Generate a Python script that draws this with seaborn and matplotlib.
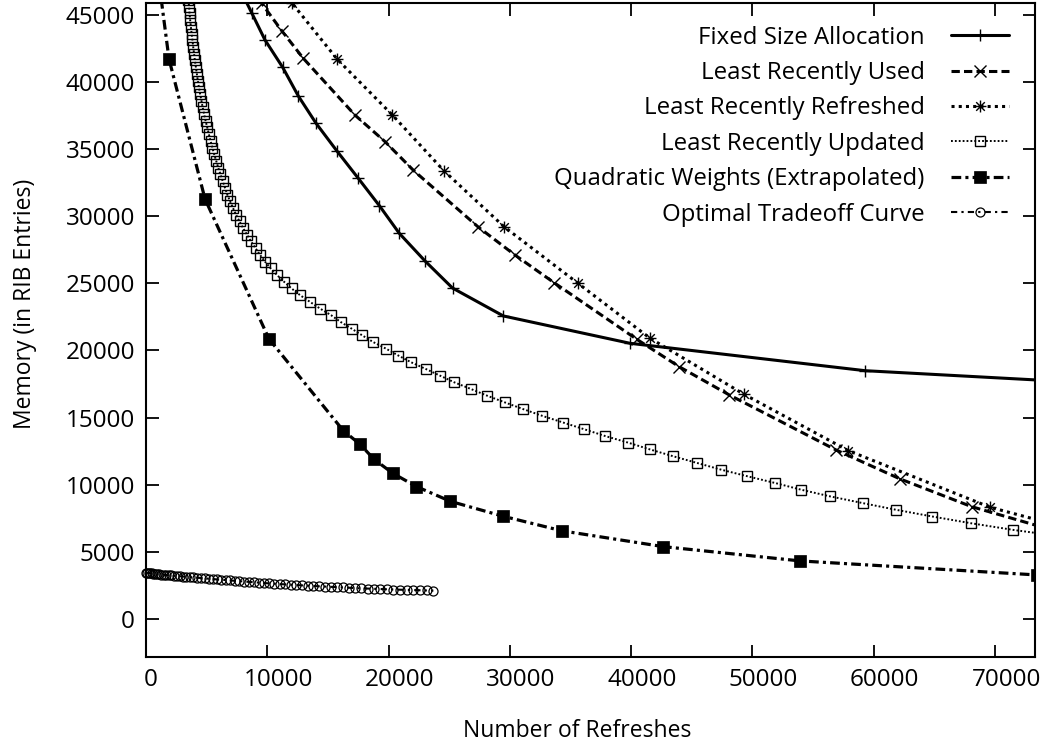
import matplotlib
matplotlib.use("Agg")
import matplotlib.pyplot as plt
import seaborn as sns
from matplotlib.path import Path
from matplotlib import transforms

# ---- data -------------------------------------------------------------
xticks = [0, 10000, 20000, 30000, 40000, 50000, 60000, 70000]
yticks = [0, 5000, 10000, 15000, 20000, 25000, 30000, 35000, 40000, 45000]

fixed_x = [7610, 8710, 9810, 11270, 12560, 14020, 15720, 17500, 19240, 20880,
           23000, 25270, 29460, 39910, 59280, 75000]
fixed_y = [47200, 45170, 43140, 41100, 38960, 36930, 34890, 32830, 30790, 28730,
           26670, 24650, 22570, 20530, 18490, 17720]

lru_x = [8400, 9540, 11190, 12970, 17230, 19710, 22040, 27400, 30420, 33640,
         40460, 43950, 48090, 56890, 62170, 68080, 75000]
lru_y = [47500, 45870, 43830, 41770, 37540, 35560, 33430, 29190, 27110, 25050,
         20830, 18790, 16680, 12580, 10420, 8350, 6540]

lrr_x = [10900, 12010, 15770, 20310, 24550, 29520, 35620, 41550, 49300, 57900,
         69590, 75000]
lrr_y = [47200, 45920, 41700, 37550, 33400, 29220, 25000, 20910, 16730, 12530,
         8310, 7000]

lrup_x = [3500, 3550, 3590, 3640, 3700, 3760, 3830, 3890, 3960, 4030,
          4110, 4190, 4270, 4360, 4460, 4570, 4670, 4790, 4910, 5050,
          5180, 5320, 5470, 5620, 5790, 5960, 6140, 6320, 6510, 6700,
          6930, 7170, 7420, 7710, 8000, 8330, 8660, 9030, 9400, 9810,
          10270, 10800, 11380, 12000, 12700, 13520, 14350, 15270, 16050, 16960,
          17830, 18740, 19810, 20800, 21850, 23060, 24240, 25420, 26800, 28140,
          29600, 31110, 32680, 34410, 36140, 37850, 39770, 41550, 43430, 45400,
          47380, 49580, 51860, 54000, 56400, 59090, 61840, 64830, 68000, 71510,
          75600]
lrup_y = [46120, 45620, 45120, 44620, 44120, 43620, 43120, 42620, 42120, 41620,
          41120, 40620, 40120, 39620, 39120, 38620, 38120, 37620, 37120, 36620,
          36120, 35620, 35120, 34620, 34120, 33620, 33120, 32620, 32120, 31620,
          31120, 30620, 30120, 29620, 29120, 28620, 28120, 27620, 27120, 26620,
          26120, 25620, 25120, 24620, 24120, 23620, 23120, 22620, 22120, 21620,
          21120, 20620, 20120, 19620, 19120, 18620, 18120, 17620, 17120, 16620,
          16120, 15620, 15120, 14620, 14120, 13620, 13120, 12620, 12120, 11620,
          11120, 10620, 10120, 9620, 9120, 8620, 8120, 7620, 7120, 6620,
          6120]

quad_x = [1150, 1896, 4865, 10141, 16267, 17644, 18799, 20341, 22300, 25100,
          29400, 34300, 42652, 53947, 73438]
quad_y = [46900, 41720, 31288, 20852, 14019, 13005, 11887, 10844, 9850, 8750,
          7650, 6550, 5374, 4308, 3264]

opt_x = [0, 100, 210, 330, 460, 600, 750, 910, 1080, 1260,
         1450, 1650, 1860, 2080, 2310, 2550, 2800, 3060, 3330, 3610,
         3900, 4200, 4510, 4830, 5160, 5500, 5850, 6200, 6560, 6930,
         7310, 7700, 8090, 8490, 8900, 9310, 9730, 10160, 10590, 11030,
         11480, 11930, 12390, 12850, 13320, 13790, 14270, 14750, 15240, 15730,
         16230, 16730, 17240, 17750, 18270, 18790, 19320, 19850, 20390, 20930,
         21480, 22030, 22580, 23140, 23690]
opt_y = [3436, 3424, 3411, 3397, 3382, 3366, 3349, 3331, 3312, 3294,
         3276, 3258, 3240, 3223, 3205, 3186, 3166, 3145, 3124, 3102,
         3080, 3061, 3036, 3011, 2985, 2959, 2932, 2906, 2881, 2855,
         2828, 2801, 2774, 2747, 2719, 2691, 2661, 2635, 2610, 2585,
         2559, 2534, 2511, 2488, 2465, 2441, 2418, 2398, 2376, 2355,
         2333, 2311, 2284, 2264, 2249, 2230, 2213, 2196, 2178, 2163,
         2150, 2137, 2123, 2108, 2094]

labels = ["Fixed Size Allocation", "Least Recently Used", "Least Recently Refreshed",
          "Least Recently Updated", "Quadratic Weights (Extrapolated)",
          "Optimal Tradeoff Curve"]

# ---- style ------------------------------------------------------------
sns.set_theme(style="ticks")
plt.rcParams["font.family"] = ["Open Sans", "DejaVu Sans"]
plt.rcParams["lines.scale_dashes"] = False
plt.rcParams["lines.dash_capstyle"] = "butt"

fig = plt.figure(figsize=(10.44, 7.42), dpi=100)
ax = fig.add_axes([146 / 1044, 1 - 656.7 / 742, (1035 - 146) / 1044, (656.7 - 2.7) / 742])

# gnuplot-like star: a "+" overlaid with an "x"
star = Path([(-1, 0), (1, 0), (0, -1), (0, 1),
             (-0.72, -0.72), (0.72, 0.72), (-0.72, 0.72), (0.72, -0.72)],
            [Path.MOVETO, Path.LINETO] * 4)


def draw(x, y, label, ls, lw, marker, ms, mew, mfc, clip=True, z=2):
    sns.lineplot(x=x, y=y, ax=ax, sort=False, estimator=None, label=label,
                 color="black", linestyle=ls, linewidth=lw, marker=marker,
                 markersize=ms, markeredgewidth=mew, markeredgecolor="black",
                 markerfacecolor=mfc, clip_on=clip, zorder=z)


draw(fixed_x, fixed_y, labels[0], "-", 2.2, "+", 8, 1.0, "black")
draw(lru_x, lru_y, labels[1], (0, (6, 3)), 2.2, "x", 8.5, 1.0, "none")
draw(lrr_x, lrr_y, labels[2], (0, (2.2, 3.0)), 2.2, star, 8.6, 1.0, "none")
draw(lrup_x, lrup_y, labels[3], (0, (1.3, 1.5)), 1.4, "s", 7.5, 1.0, "none")
draw(quad_x, quad_y, labels[4], (0, (7, 3, 2.2, 3)), 2.3, "s", 8.5, 0.5, "black")
draw(opt_x, opt_y, labels[5], (0, (4.5, 3, 1.6, 3)), 1.5, "o", 6.5, 0.9, "none",
     clip=False)

# ---- axes -------------------------------------------------------------
ax.set_xlim(0, 73290)
ax.set_ylim(-2830, 45920)
ax.set_xticks(xticks)
ax.set_yticks(yticks)
ax.set_xticklabels([str(v) for v in xticks])
ax.set_yticklabels([str(v) for v in yticks])
ax.tick_params(direction="in", length=9, width=1.3, top=True, right=True,
               labelsize=17.5, pad=8, colors="black")
for sp in ax.spines.values():
    sp.set_visible(True)
    sp.set_linewidth(1.5)
    sp.set_color("black")

for lab in ax.get_xticklabels():
    shift = 1.5 * len(lab.get_text()) + 3.5
    lab.set_transform(lab.get_transform() +
                      transforms.ScaledTranslation(shift / 100, 0, fig.dpi_scale_trans))

ax.set_xlabel("Number of Refreshes", fontsize=16.5, color="black")
ax.set_ylabel("Memory (in RIB Entries)", fontsize=16.5, color="black")
ax.xaxis.set_label_coords(0.485, -0.095)
ax.yaxis.set_label_coords(-0.1225, 0.54)

leg = ax.legend(loc="upper right", bbox_to_anchor=(0.9705, 0.965), frameon=False,
                markerfirst=False, handlelength=2.4, handletextpad=1.1,
                labelspacing=0.475, borderaxespad=0, borderpad=0, fontsize=17.3)
for t in leg.get_texts():
    t.set_color("black")

fig.savefig("out.png", dpi=100)
